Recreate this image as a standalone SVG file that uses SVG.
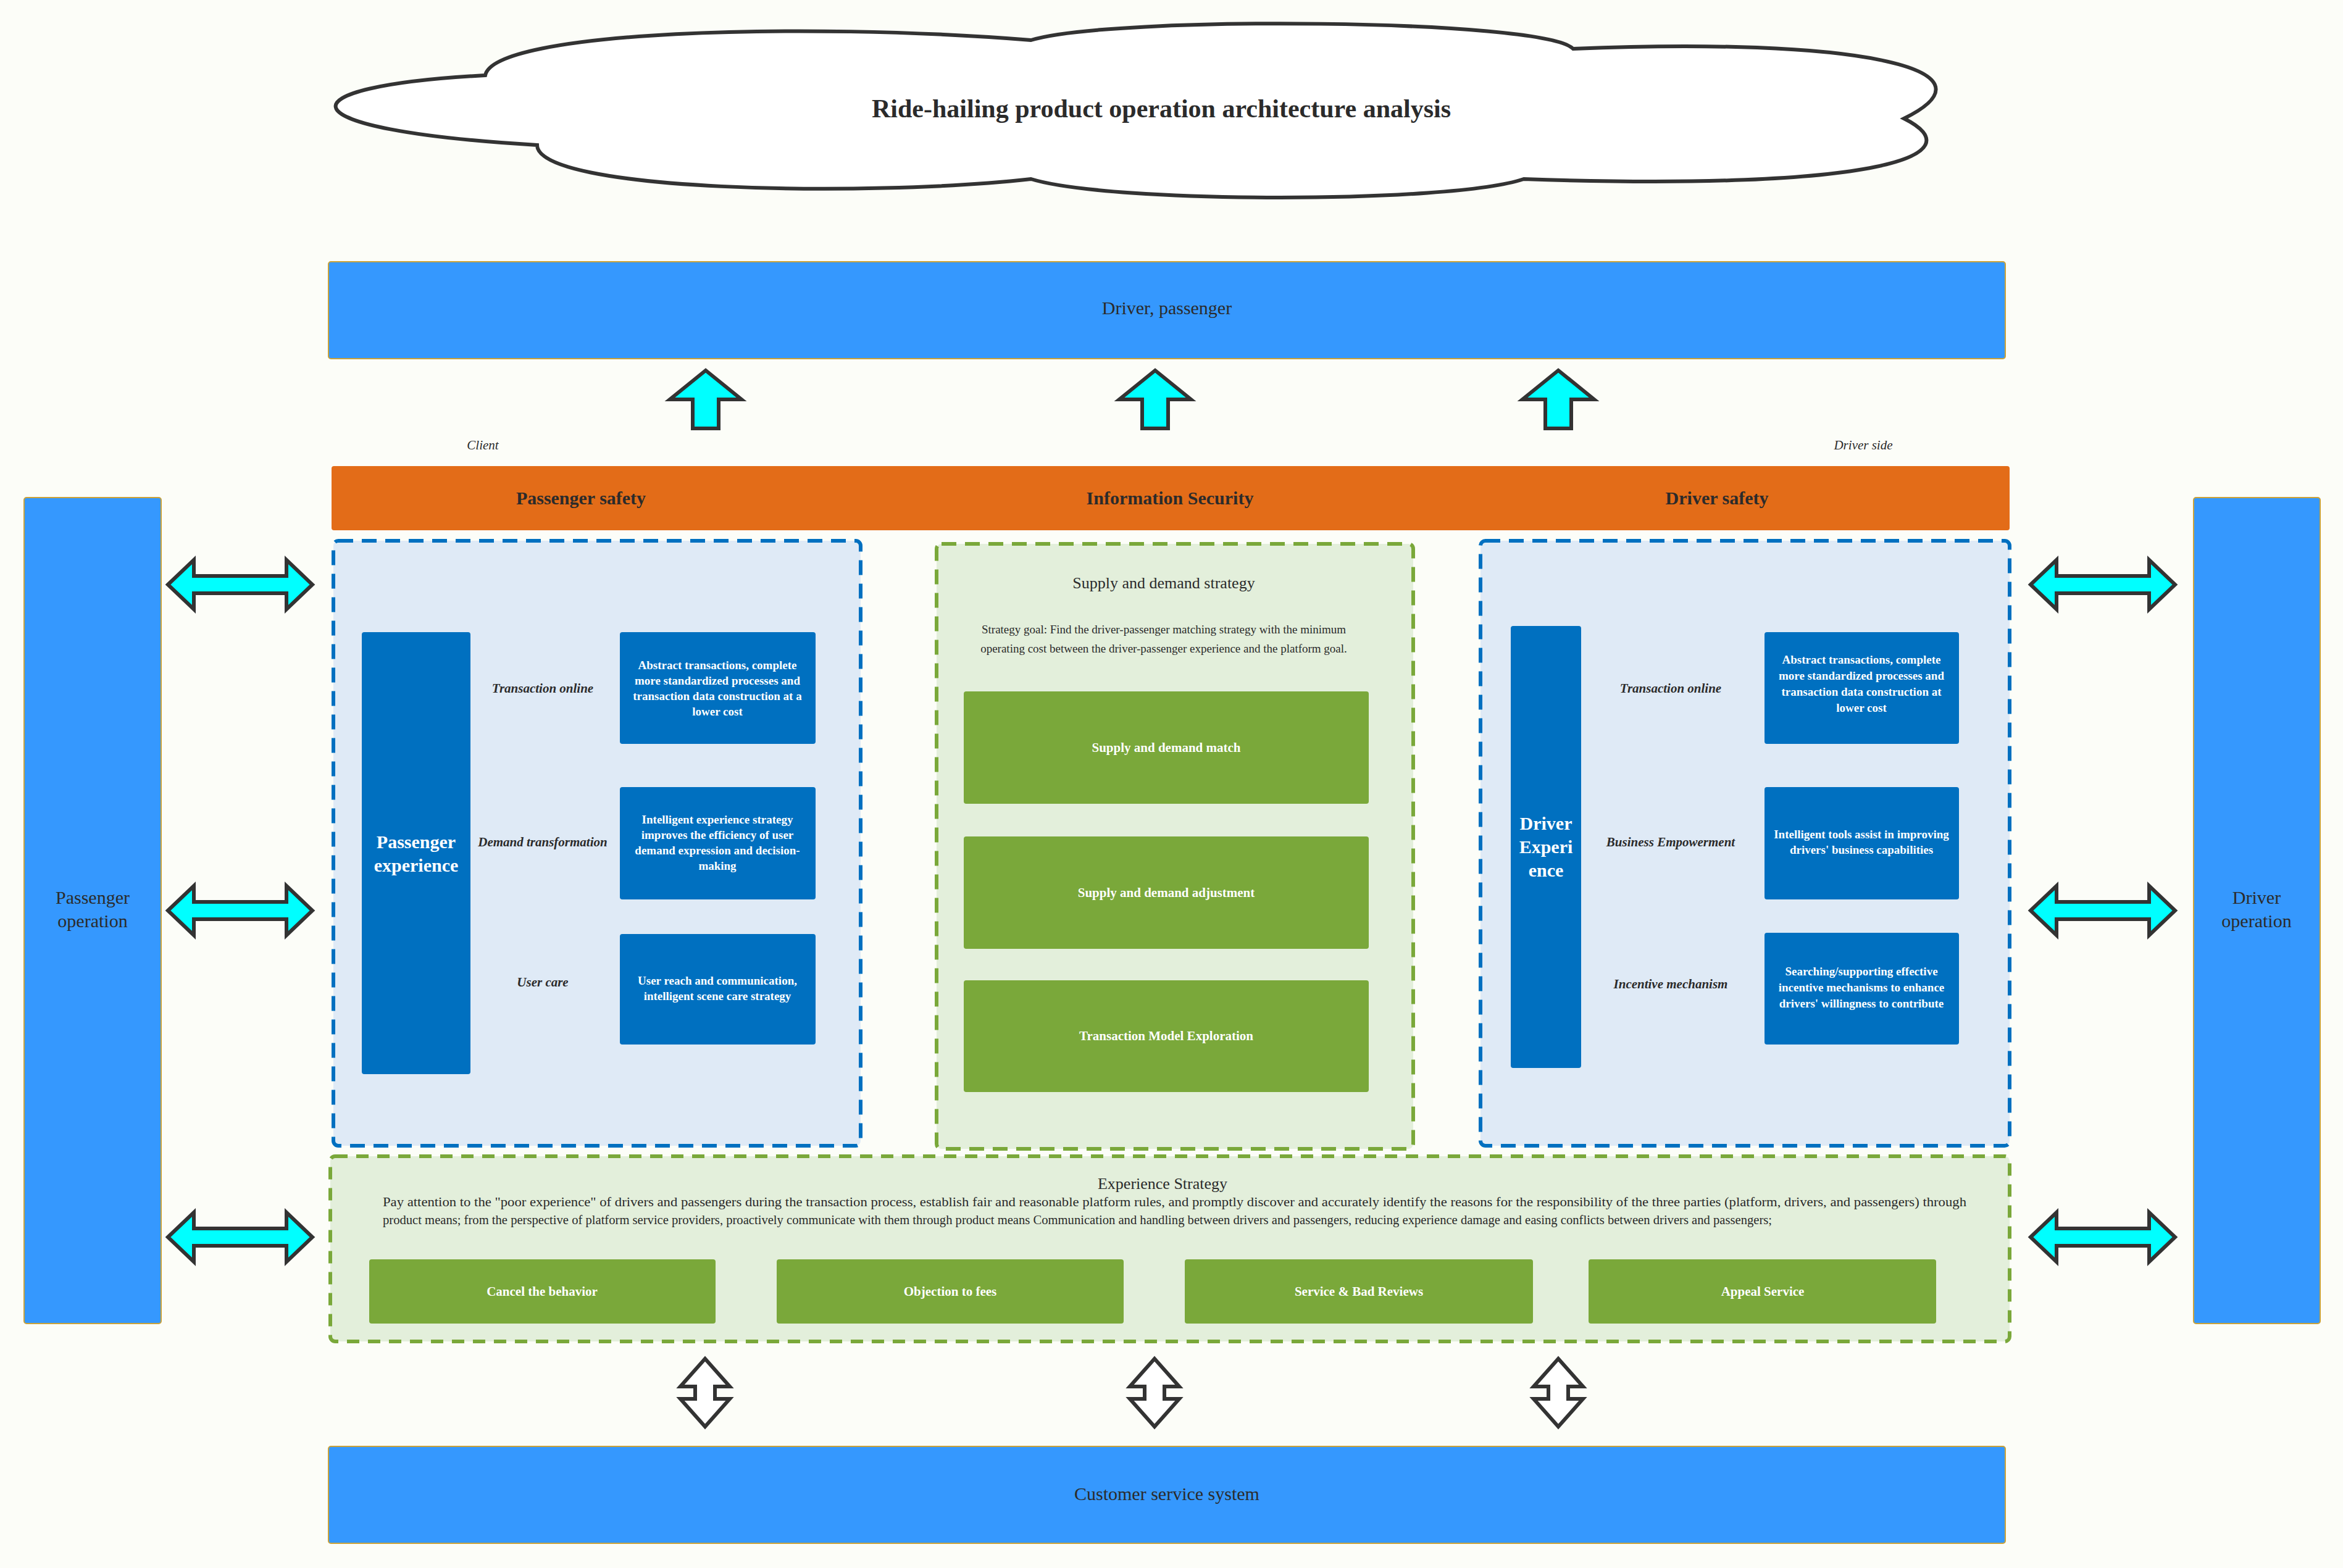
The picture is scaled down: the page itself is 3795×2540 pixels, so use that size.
<svg xmlns="http://www.w3.org/2000/svg" width="3795" height="2540" viewBox="0 0 3795 2540">
<style>
text{font-family:"Liberation Serif",serif;text-anchor:middle;fill:#2b2b2b}
.big{fill:#3598fe;stroke:#c9a23a;stroke-width:2}
.blue{fill:#0070c0}
.green{fill:#7aa83a}
.wt{fill:#fff;font-size:19px;font-weight:bold}
.gt{fill:#fff;font-size:21px;font-weight:bold}
.lab{font-size:21px;font-style:italic;font-weight:bold}
.arr{fill:#00ffff;stroke:#333;stroke-width:6;stroke-linejoin:miter}
.varr{fill:#fff;stroke:#333;stroke-width:6}
.hb{font-size:30px;font-weight:bold}
.hn{font-size:30px;font-weight:normal}
</style>
<rect width="3795" height="2540" fill="#fcfdf8"/>
<g id="title">
<path d="M786,122 C800,50 1300,35 1670,65 C1800,25 2500,30 2548,79 C3000,60 3250,110 3084,192 C3200,250 3050,310 2468,290 C2350,330 1800,330 1670,290 C1400,320 870,310 870,235 C450,210 450,140 786,122 Z" fill="#fff" stroke="#333" stroke-width="6"/>
<text x="1881" y="190" font-size="42" font-weight="bold">Ride-hailing product operation architecture analysis</text>
</g>
<g id="driver-passenger"><rect class="big" x="532" y="424" width="2716" height="157" rx="4"/><text x="1890" y="509" class="hn">Driver, passenger</text></g>
<g id="labels">
<text x="782" y="728" font-size="21" font-style="italic">Client</text>
<text x="3018" y="728" font-size="21" font-style="italic">Driver side</text>
</g>
<g id="security"><rect x="537" y="755" width="2718" height="104" rx="4" fill="#e36c18"/>
<text x="941" y="817" class="hb">Passenger safety</text><text x="1895" y="817" class="hb">Information Security</text><text x="2781" y="817" class="hb">Driver safety</text></g>
<g id="passenger-operation"><rect class="big" x="39" y="806" width="222" height="1338" rx="4"/><text x="150" y="1464" class="hn"><tspan x="150">Passenger</tspan><tspan x="150" dy="38">operation</tspan></text></g>
<g id="driver-operation"><rect class="big" x="3553" y="806" width="205" height="1338" rx="4"/><text x="3655" y="1464" class="hn"><tspan x="3655">Driver</tspan><tspan x="3655" dy="38">operation</tspan></text></g>
<g id="passenger-experience">
<rect x="540" y="876" width="854" height="980" rx="8" fill="#dfeaf6" stroke="#0070c0" stroke-width="6" stroke-dasharray="24,14"/>
<rect class="blue" x="586" y="1024" width="176" height="716" rx="4"/>
<text x="674" y="1374" font-size="30" font-weight="bold" style="fill:#fff"><tspan x="674">Passenger</tspan><tspan x="674" dy="38">experience</tspan></text>
<text class="lab" x="879" y="1122">Transaction online</text>
<text class="lab" x="879" y="1371">Demand transformation</text>
<text class="lab" x="879" y="1598">User care</text>
<rect class="blue" x="1004" y="1024" width="317" height="181" rx="4"/>
<text class="wt"><tspan x="1162" y="1084">Abstract transactions, complete</tspan><tspan x="1162" dy="25">more standardized processes and</tspan><tspan x="1162" dy="25">transaction data construction at a</tspan><tspan x="1162" dy="25">lower cost</tspan></text>
<rect class="blue" x="1004" y="1275" width="317" height="182" rx="4"/>
<text class="wt"><tspan x="1162" y="1334">Intelligent experience strategy</tspan><tspan x="1162" dy="25">improves the efficiency of user</tspan><tspan x="1162" dy="25">demand expression and decision-</tspan><tspan x="1162" dy="25">making</tspan></text>
<rect class="blue" x="1004" y="1513" width="317" height="179" rx="4"/>
<text class="wt"><tspan x="1162" y="1595">User reach and communication,</tspan><tspan x="1162" dy="25">intelligent scene care strategy</tspan></text>
</g>
<g id="supply-demand">
<rect x="1517" y="881" width="772" height="980" rx="8" fill="#e3efdb" stroke="#7aa83a" stroke-width="6" stroke-dasharray="24,14"/>
<text x="1885" y="953" font-size="26">Supply and demand strategy</text>
<text font-size="19"><tspan x="1885" y="1026">Strategy goal: Find the driver-passenger matching strategy with the minimum</tspan><tspan x="1885" dy="31">operating cost between the driver-passenger experience and the platform goal.</tspan></text>
<rect class="green" x="1561" y="1120" width="656" height="182" rx="4"/><text class="gt" x="1889" y="1218">Supply and demand match</text>
<rect class="green" x="1561" y="1355" width="656" height="182" rx="4"/><text class="gt" x="1889" y="1453">Supply and demand adjustment</text>
<rect class="green" x="1561" y="1588" width="656" height="181" rx="4"/><text class="gt" x="1889" y="1685">Transaction Model Exploration</text>
</g>
<g id="driver-experience">
<rect x="2398" y="876" width="857" height="980" rx="8" fill="#dfeaf6" stroke="#0070c0" stroke-width="6" stroke-dasharray="24,14"/>
<rect class="blue" x="2447" y="1014" width="114" height="716" rx="4"/>
<text x="2504" y="1344" font-size="30" font-weight="bold" style="fill:#fff"><tspan x="2504">Driver</tspan><tspan x="2504" dy="38">Experi</tspan><tspan x="2504" dy="38">ence</tspan></text>
<text class="lab" x="2706" y="1122">Transaction online</text>
<text class="lab" x="2706" y="1371">Business Empowerment</text>
<text class="lab" x="2706" y="1601">Incentive mechanism</text>
<rect class="blue" x="2858" y="1024" width="315" height="181" rx="4"/>
<text class="wt"><tspan x="3015" y="1075">Abstract transactions, complete</tspan><tspan x="3015" dy="26">more standardized processes and</tspan><tspan x="3015" dy="26">transaction data construction at</tspan><tspan x="3015" dy="26">lower cost</tspan></text>
<rect class="blue" x="2858" y="1275" width="315" height="182" rx="4"/>
<text class="wt"><tspan x="3015" y="1358">Intelligent tools assist in improving</tspan><tspan x="3015" dy="25">drivers' business capabilities</tspan></text>
<rect class="blue" x="2858" y="1511" width="315" height="181" rx="4"/>
<text class="wt"><tspan x="3015" y="1580">Searching/supporting effective</tspan><tspan x="3015" dy="26">incentive mechanisms to enhance</tspan><tspan x="3015" dy="26">drivers' willingness to contribute</tspan></text>
</g>
<g id="experience-strategy">
<rect x="535" y="1873" width="2720" height="300" rx="8" fill="#e3efdb" stroke="#7aa83a" stroke-width="6" stroke-dasharray="20,14"/>
<text x="1883" y="1926" font-size="26">Experience Strategy</text>
<text font-size="20" style="text-anchor:start"><tspan x="620" y="1954" textLength="2565" lengthAdjust="spacingAndGlyphs">Pay attention to the "poor experience" of drivers and passengers during the transaction process, establish fair and reasonable platform rules, and promptly discover and accurately identify the reasons for the responsibility of the three parties (platform, drivers, and passengers) through</tspan><tspan x="620" y="1983" textLength="2250" lengthAdjust="spacingAndGlyphs">product means; from the perspective of platform service providers, proactively communicate with them through product means Communication and handling between drivers and passengers, reducing experience damage and easing conflicts between drivers and passengers;</tspan></text>
<rect class="green" x="598" y="2040" width="561" height="104" rx="4"/><text class="gt" x="878" y="2099" font-size="20">Cancel the behavior</text>
<rect class="green" x="1258" y="2040" width="562" height="104" rx="4"/><text class="gt" x="1539" y="2099" font-size="20">Objection to fees</text>
<rect class="green" x="1919" y="2040" width="564" height="104" rx="4"/><text class="gt" x="2201" y="2099" font-size="20">Service &amp; Bad Reviews</text>
<rect class="green" x="2573" y="2040" width="563" height="104" rx="4"/><text class="gt" x="2855" y="2099" font-size="20">Appeal Service</text>
</g>
<g id="customer-service"><rect class="big" x="532" y="2343" width="2716" height="157" rx="4"/><text x="1890" y="2430" class="hn">Customer service system</text></g>
<g id="connectors">
<defs>
<path id="up" d="M0,-47 L58,0 L21,0 L21,47 L-21,47 L-21,0 L-58,0 Z"/>
<path id="hd" d="M-117,0 L-75,-40 L-75,-14 L75,-14 L75,-40 L117,0 L75,40 L75,14 L-75,14 L-75,40 Z"/>
<path id="vd" d="M0,-55 L40,-10 L16,-10 L16,10 L40,10 L0,55 L-40,10 L-16,10 L-16,-10 L-40,-10 Z"/>
</defs>
<use href="#up" class="arr" x="1143" y="647"/>
<use href="#up" class="arr" x="1871" y="647"/>
<use href="#up" class="arr" x="2524" y="647"/>
<use href="#hd" class="arr" x="389" y="947"/>
<use href="#hd" class="arr" x="389" y="1475"/>
<use href="#hd" class="arr" x="389" y="2004"/>
<use href="#hd" class="arr" x="3406" y="947"/>
<use href="#hd" class="arr" x="3406" y="1475"/>
<use href="#hd" class="arr" x="3406" y="2004"/>
<use href="#vd" class="varr" x="1142" y="2256"/>
<use href="#vd" class="varr" x="1870" y="2256"/>
<use href="#vd" class="varr" x="2524" y="2256"/>
</g>
</svg>
